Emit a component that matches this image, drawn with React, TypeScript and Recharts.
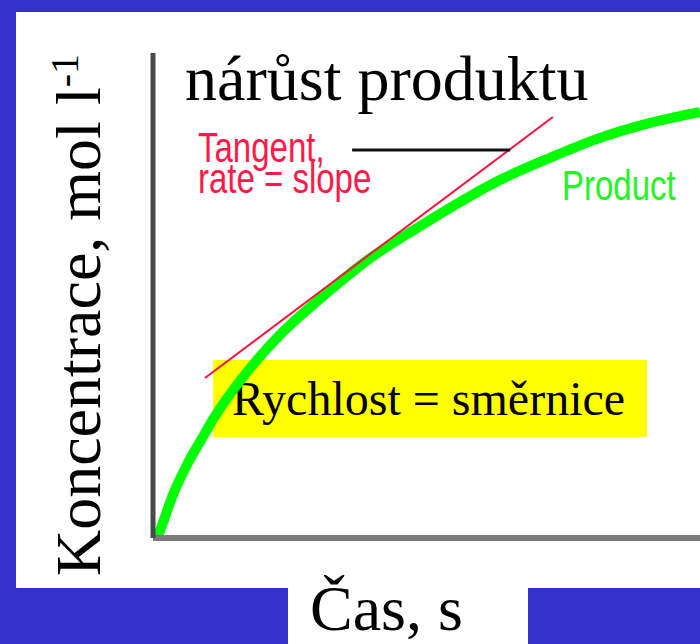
import {
  ComposedChart,
  Line,
  XAxis,
  YAxis,
  ReferenceArea,
  ReferenceLine,
} from 'recharts'

// čas (arbitrary units) vs. koncentrace produktu
const productTime = [0.07, 0.13, 0.35, 0.64, 0.91, 1.11, 1.59, 2.34, 3.05, 3.97, 4.88, 5.8, 6.34, 7.26, 8.17, 9.09, 10]
const productConc = [0, 0.16, 0.85, 1.55, 2.08, 2.47, 3.24, 4.21, 4.93, 5.77, 6.43, 7.05, 7.38, 7.84, 8.25, 8.56, 8.78]
const tangentTime = [0.95, 7.31]
const tangentConc = [3.3, 8.68]
const pointerTime = [3.64, 6.53]
const pointerConc = 8
const boxTime = [1.1, 9.03]
const boxConc = [2.08, 3.67]

const product = productTime.map((t, i) => ({ t, c: productConc[i] }))
const tangent = tangentTime.map((t, i) => ({ t, c: tangentConc[i] }))

const BLUE = '#3333cc'
const SERIF = '"Liberation Serif", "Times New Roman", serif'
const SANS = '"Liberation Sans", Arial, sans-serif'

const YLabel = () => (
  <text
    transform="translate(100,576) rotate(-90)"
    fontFamily={SERIF}
    fontSize={64}
    fill="#000"
  >
    Koncentrace, mol l
    <tspan fontSize={40} dy={-22}>-1</tspan>
  </text>
)

const XLabel = () => (
  <text x={310} y={630} fontFamily={SERIF} fontSize={64} fill="#000">
    Čas, s
  </text>
)

const BoxLabel = () => (
  <text x={232} y={415} fontFamily={SERIF} fontSize={48} fill="#000">
    Rychlost = směrnice
  </text>
)

export default function App() {
  return (
    <div style={{ position: 'absolute', left: 0, top: 0, width: 700, height: 644, background: BLUE, overflow: 'hidden' }}>
      <div style={{ position: 'absolute', left: 16, top: 12, width: 684, height: 576, background: '#fff' }} />
      <div style={{ position: 'absolute', left: 288, top: 586, width: 240, height: 58, background: '#fff' }} />
      <div style={{ position: 'absolute', left: 0, top: 0 }}>
        <ComposedChart width={700} height={644} margin={{ top: 53, right: 0, left: 0, bottom: 0 }}>
          <XAxis
            type="number"
            dataKey="t"
            domain={[0, 10]}
            height={106}
            tick={false}
            tickLine={false}
            axisLine={{ stroke: '#7a7a7a', strokeWidth: 6 }}
            label={<XLabel />}
          />
          <YAxis
            type="number"
            dataKey="c"
            domain={[0, 10]}
            width={153}
            tick={false}
            tickLine={false}
            axisLine={{ stroke: '#4a4a4a', strokeWidth: 5 }}
            label={<YLabel />}
          />
          <Line
            data={product}
            dataKey="c"
            type="monotone"
            stroke="#00ff00"
            strokeWidth={10}
            dot={false}
            isAnimationActive={false}
          />
          <Line
            data={tangent}
            dataKey="c"
            type="linear"
            stroke="#ff1040"
            strokeWidth={2}
            dot={false}
            isAnimationActive={false}
          />
          <ReferenceLine
            segment={[
              { x: pointerTime[0], y: pointerConc },
              { x: pointerTime[1], y: pointerConc },
            ]}
            stroke="#111"
            strokeWidth={3}
          />
          <ReferenceArea
            x1={boxTime[0]}
            x2={boxTime[1]}
            y1={boxConc[0]}
            y2={boxConc[1]}
            fill="#ffff00"
            fillOpacity={1}
            stroke="none"
            label={<BoxLabel />}
          />
          <text x={185} y={100} fontFamily={SERIF} fontSize={64} fill="#000">
            nárůst produktu
          </text>
          <g transform="translate(198,162) scale(1,1.28)">
            <text fontFamily={SANS} fontSize={33} fill="#ff1a4a">
              <tspan x={0} y={0}>Tangent,</tspan>
              <tspan x={0} y={24}>rate = slope</tspan>
            </text>
          </g>
          <g transform="translate(562,200) scale(1,1.27)">
            <text fontFamily={SANS} fontSize={33} fill="#22f522">Product</text>
          </g>
        </ComposedChart>
      </div>
    </div>
  )
}
